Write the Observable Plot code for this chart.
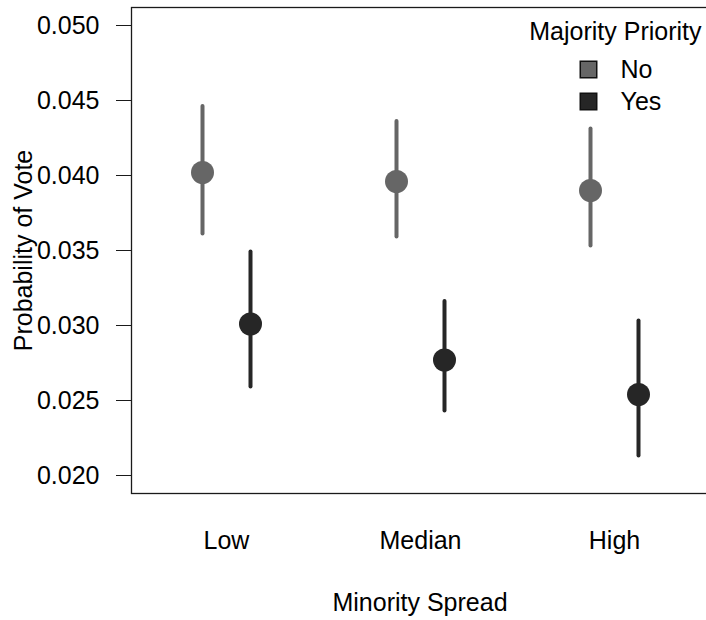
<!DOCTYPE html>
<html><head><meta charset="utf-8">
<script src="https://cdn.jsdelivr.net/npm/d3@7"></script>
<script src="https://cdn.jsdelivr.net/npm/@observablehq/plot@0.6"></script>
<style>html,body{margin:0;padding:0;overflow:hidden;background:#fff;width:706px}#chart{width:706px;height:620px;overflow:hidden}</style>
</head><body><div id="chart"></div>
<script>
const categories = ["Low", "Median", "High"];
const groups = ["No", "Yes"];
const estNo = [0.0402, 0.0396, 0.0390];
const lowNo = [0.0361, 0.0359, 0.0353];
const highNo = [0.0446, 0.0436, 0.0431];
const estYes = [0.0301, 0.0277, 0.0254];
const lowYes = [0.0259, 0.0243, 0.0213];
const highYes = [0.0349, 0.0316, 0.0303];
const yTicks = [0.020, 0.025, 0.030, 0.035, 0.040, 0.045, 0.050];
const colors = ["#666666", "#262626"];
const xTitle = "Minority Spread";
const yTitle = "Probability of Vote";
const legendTitle = "Majority Priority";

const series = {No: [estNo, lowNo, highNo], Yes: [estYes, lowYes, highYes]};
const rows = groups.flatMap(g => categories.map((c, i) => ({
  spread: c, group: g, est: series[g][0][i], lo: series[g][1][i], hi: series[g][2][i]
})));

const offsets = {No: -24, Yes: 24};
const marks = [
  Plot.frame({stroke: "#1a1a1a", strokeWidth: 1.3}),
  Plot.axisY({ticks: yTicks, tickFormat: d3.format(".3f"), tickSize: 15, tickPadding: 17, label: null, stroke: "#1a1a1a", fill: "#000"}),
  Plot.axisX({tickSize: 0, tickPadding: 38, label: null, fill: "#000"})
];
groups.forEach((g, gi) => {
  const d = rows.filter(r => r.group === g);
  marks.push(Plot.ruleX(d, {x: "spread", y1: "lo", y2: "hi", stroke: "group", strokeWidth: 4, strokeLinecap: "round", dx: offsets[g]}));
  marks.push(Plot.dot(d, {x: "spread", y: "est", fill: "group", r: 11.5, dx: offsets[g]}));
  marks.push(Plot.dot([g], {frameAnchor: "top-right", symbol: "square", r: 9.3, fill: colors[gi], stroke: "#111", strokeWidth: 1.5, dx: -120, dy: 62 + gi * 32}));
  marks.push(Plot.text([g], {frameAnchor: "top-right", text: d => d, textAnchor: "start", lineAnchor: "middle", dx: -88, dy: 62 + gi * 32, fill: "#000"}));
});
marks.push(Plot.text([legendTitle], {frameAnchor: "top-right", text: d => d, textAnchor: "end", lineAnchor: "middle", dx: -7, dy: 24, fill: "#000"}));
marks.push(Plot.text([yTitle], {frameAnchor: "left", text: d => d, rotate: -90, textAnchor: "middle", lineAnchor: "bottom", dx: -100, fill: "#000"}));
marks.push(Plot.text([xTitle], {frameAnchor: "bottom", text: d => d, textAnchor: "middle", lineAnchor: "top", dy: 100, fill: "#000"}));

const chart = Plot.plot({
  width: 710,
  height: 620,
  marginLeft: 131,
  marginRight: 2,
  marginTop: 7,
  marginBottom: 127,
  style: {fontFamily: "'Liberation Sans', Arial, Helvetica, sans-serif", fontSize: "25px", background: "#fff", color: "#000", maxWidth: "none"},
  x: {type: "point", domain: categories, padding: 0.483, label: null},
  y: {domain: [0.0188, 0.0512], label: null},
  color: {domain: groups, range: colors},
  marks
});
document.getElementById("chart").appendChild(chart);
</script>
</body></html>
